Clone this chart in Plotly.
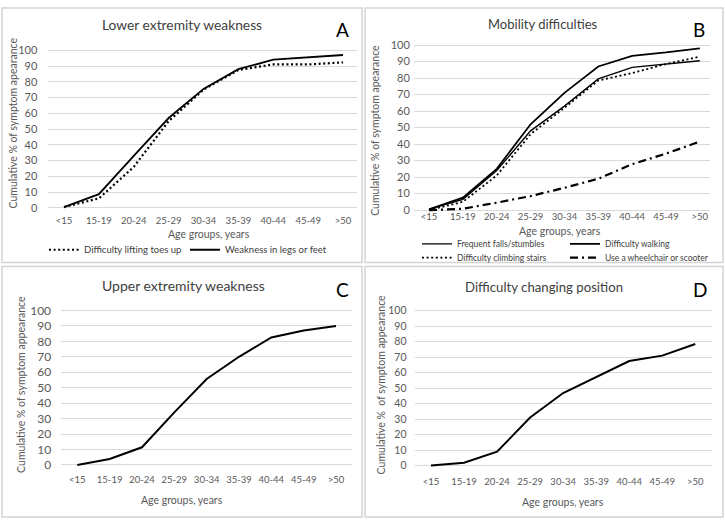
import plotly.graph_objects as go

categories = ["<15", "15-19", "20-24", "25-29", "30-34", "35-39", "40-44", "45-49", ">50"]

# Panel A - Lower extremity weakness
a_toes = [0.5, 6.0, 26, 55, 75, 87.5, 91, 91, 92.3]
a_legs = [0.5, 8.7, 33, 57, 75.5, 88, 94, 95.5, 97]
# Panel B - Mobility difficulties
b_falls = [0.5, 6.5, 24, 48, 63, 79.5, 86.5, 88.3, 90.5]
b_walk = [0.5, 7.5, 25, 52, 71, 87, 93.5, 95.5, 98]
b_stairs = [0, 5, 21, 46, 62, 78.5, 83, 88.5, 93]
b_wheel = [0, 0.8, 4.5, 8.5, 13.5, 19, 27.8, 34.2, 41.5]
# Panel C - Upper extremity weakness
c_upper = [0, 3.8, 11.4, 34, 55.6, 70, 82.5, 87, 90]
# Panel D - Difficulty changing position
d_position = [0, 1.8, 8.9, 31, 46.8, 57, 67.5, 71, 78.5]

W, H = 725, 524
FONT = "Lato"
GRAY = "#595959"
DARK = "#404040"


def px(x):
    return x / W


def py(y):
    return 1 - y / H


fig = go.Figure()

dot = "2px,2.6px"
dashdot = "8px,4px,2px,4px"

fig.add_trace(go.Scatter(x=categories, y=a_toes, mode="lines", name="Difficulty lifting toes up",
                         line=dict(color="black", width=2.2, dash=dot), xaxis="x", yaxis="y", legend="legend"))
fig.add_trace(go.Scatter(x=categories, y=a_legs, mode="lines", name="Weakness in legs or feet",
                         line=dict(color="black", width=1.8), xaxis="x", yaxis="y", legend="legend2"))

fig.add_trace(go.Scatter(x=categories, y=b_falls, mode="lines", name="Frequent falls/stumbles",
                         line=dict(color="black", width=1.4), xaxis="x2", yaxis="y2", legend="legend3"))
fig.add_trace(go.Scatter(x=categories, y=b_walk, mode="lines", name="Difficulty walking",
                         line=dict(color="black", width=1.8), xaxis="x2", yaxis="y2", legend="legend4"))
fig.add_trace(go.Scatter(x=categories, y=b_stairs, mode="lines", name="Difficulty climbing stairs",
                         line=dict(color="black", width=1.8, dash=dot), xaxis="x2", yaxis="y2", legend="legend5"))
fig.add_trace(go.Scatter(x=categories, y=b_wheel, mode="lines", name="Use a wheelchair or scooter",
                         line=dict(color="black", width=2.2, dash=dashdot), xaxis="x2", yaxis="y2", legend="legend6"))

fig.add_trace(go.Scatter(x=categories, y=c_upper, mode="lines", name="Upper extremity weakness",
                         line=dict(color="black", width=2), xaxis="x3", yaxis="y3", showlegend=False))
fig.add_trace(go.Scatter(x=categories, y=d_position, mode="lines", name="Difficulty changing position",
                         line=dict(color="black", width=2), xaxis="x4", yaxis="y4", showlegend=False))

# panel geometry (pixels)
panels = {
    "": dict(xl=48.3, xr=357, xrange=[-0.45, 8.4], yb=208.6, yt=43.6, ytf=11, xtf=9.5, ys=10, xs=3),
    "2": dict(xl=413.8, xr=710, xrange=[-0.45, 8.3], yb=211.0, yt=38.2, ytf=11, xtf=9.5, ys=3, xs=-3),
    "3": dict(xl=61.1, xr=352.2, xrange=[-0.5, 8.5], yb=471.1, yt=309.4, ytf=12, xtf=9.5, ys=9, xs=5),
    "4": dict(xl=414.5, xr=711.8, xrange=[-0.5, 8.5], yb=471.7, yt=309.7, ytf=10.5, xtf=9.5, ys=7, xs=7),
}

layout_axes = {}
for k, p in panels.items():
    layout_axes["xaxis" + k] = dict(
        domain=[px(p["xl"]), px(p["xr"])], anchor="y" + k, type="category",
        range=p["xrange"], showgrid=False, zeroline=False, showline=False, ticks="",
        tickfont=dict(family=FONT, size=p["xtf"], color=GRAY), ticklabelstandoff=p["xs"],
        fixedrange=True,
    )
    layout_axes["yaxis" + k] = dict(
        domain=[py(p["yb"]), py(p["yt"])], anchor="x" + k, range=[-1.5, 101],
        tickmode="array", tickvals=list(range(0, 101, 10)), showgrid=True,
        gridcolor="#d9d9d9", gridwidth=1, zeroline=False, showline=False, ticks="",
        tickfont=dict(family=FONT, size=p["ytf"], color=GRAY), ticklabelstandoff=p["ys"],
        fixedrange=True,
    )

annotations = []


def ann(text, x, y, size, color=GRAY, angle=0, xanchor="center"):
    annotations.append(dict(text=text, x=px(x), y=py(y), xref="paper", yref="paper",
                            showarrow=False, xanchor=xanchor, yanchor="middle", textangle=angle,
                            font=dict(family=FONT, size=size, color=color)))


# panel titles and letters
ann("Lower extremity weakness", 182, 19, 13.8, DARK)
ann("A", 342, 24, 19, "black")
ann("Mobility difficulties", 543, 18, 13, DARK)
ann("B", 699, 24, 19, "black")
ann("Upper extremity weakness", 183, 286, 14, DARK)
ann("C", 342, 290, 19, "black")
ann("Difficulty changing position", 544, 287, 13.2, DARK)
ann("D", 700, 290, 19, "black")

# axis titles
ann("Cumulative % of symptom apearance", 13, 120, 10.5, GRAY, -90)
ann("Cumulative % of symptom apearance", 375.5, 127, 10.5, GRAY, -90)
ann("Cumulative % of symptom appearance", 21, 387, 10.5, GRAY, -90)
ann("Cumulative %  of symptom appearance", 380.5, 387, 10.5, GRAY, -90)
ann("Age groups, years", 209, 233, 10.5)
ann("Age groups, years", 560, 230, 10.5)
ann("Age groups, years", 182, 505, 10.5)
ann("Age groups, years", 563, 507, 10.5)

# panel borders
shapes = []
for (x0, x1, y0, y1) in [(2, 362, 2, 262), (365, 723, 2, 262), (2, 362, 266, 522), (365, 723, 266, 522)]:
    shapes.append(dict(type="rect", xref="paper", yref="paper", x0=px(x0), x1=px(x1), y0=py(y1), y1=py(y0),
                       line=dict(color="#d4d4d4", width=1.5), fillcolor="rgba(0,0,0,0)", layer="below"))


def leg(x, y, size=9.5):
    return dict(x=px(x), y=py(y), xanchor="left", yanchor="middle", orientation="h",
                bgcolor="rgba(0,0,0,0)", borderwidth=0, itemwidth=30, tracegroupgap=0,
                font=dict(family=FONT, size=size, color=DARK))


fig.update_layout(
    width=W, height=H, margin=dict(l=0, r=0, t=0, b=0),
    paper_bgcolor="white", plot_bgcolor="white",
    showlegend=True,
    legend=leg(44, 249), legend2=leg(185, 249),
    legend3=leg(417, 243, 8.5), legend4=leg(565, 243, 8.5),
    legend5=leg(417, 257, 8.5), legend6=leg(565, 257, 8.5),
    annotations=annotations, shapes=shapes,
    **layout_axes,
)

fig.write_html("out.html", config={"displayModeBar": False},
               post_script="document.body.style.margin='0px';document.body.style.overflow='hidden';")
